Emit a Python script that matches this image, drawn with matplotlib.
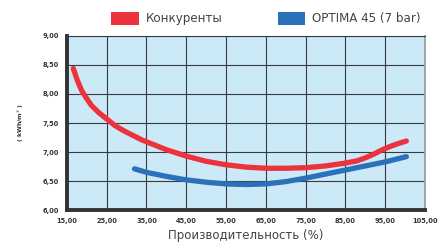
import numpy as np
from matplotlib import pyplot as plt
from matplotlib.patches import Patch
from matplotlib.ticker import FuncFormatter

# values
competitor_x = [16.6, 17.6, 18.7, 20, 21.2, 23, 25, 27, 29.2, 31.5, 33.8, 36.7, 40, 45, 50, 55, 60, 65, 70, 75, 80, 85, 88, 90, 92, 94, 96, 98, 100.3]
competitor_y = [8.44, 8.24, 8.06, 7.92, 7.80, 7.68, 7.57, 7.46, 7.37, 7.29, 7.21, 7.13, 7.04, 6.93, 6.84, 6.78, 6.74, 6.72, 6.72, 6.73, 6.76, 6.81, 6.85, 6.90, 6.96, 7.03, 7.09, 7.14, 7.19]
optima_x = [32, 35, 40, 45, 50, 55, 60, 65, 70, 75, 80, 85, 90, 95, 100.3]
optima_y = [6.71, 6.65, 6.58, 6.52, 6.48, 6.45, 6.44, 6.45, 6.49, 6.55, 6.62, 6.69, 6.76, 6.83, 6.92]
x_ticks = [15, 25, 35, 45, 55, 65, 75, 85, 95, 105]
y_ticks = [6.0, 6.5, 7.0, 7.5, 8.0, 8.5, 9.0]
series_names = ['Конкуренты', 'OPTIMA 45 (7 bar)']

RED = '#ec323c'
BLUE = '#2b71b9'

fig = plt.figure(figsize=(4.4, 2.48), dpi=100)
ax = fig.add_axes([0.152, 0.153, 0.814, 0.702])
ax.set_facecolor('#cce9f8')

ax.plot(competitor_x, competitor_y, color=RED, lw=3.8, solid_capstyle='round', solid_joinstyle='round', zorder=3)
ax.plot(optima_x, optima_y, color=BLUE, lw=3.8, solid_capstyle='round', solid_joinstyle='round', zorder=3)

ax.set_xlim(15, 105)
ax.set_ylim(6.0, 9.0)
ax.set_xticks(x_ticks)
ax.set_yticks(y_ticks)
comma = FuncFormatter(lambda v, p: ('%.2f' % v).replace('.', ','))
ax.xaxis.set_major_formatter(comma)
ax.yaxis.set_major_formatter(comma)
ax.tick_params(length=0, labelsize=4.8, labelcolor='#333333', pad=6)
for lab in ax.get_xticklabels() + ax.get_yticklabels():
    lab.set_fontweight('bold')
ax.grid(True, color='#3a3a3a', lw=0.8, zorder=1)
ax.set_axisbelow(True)

for side in ['left', 'bottom']:
    ax.spines[side].set_color('#333333')
    ax.spines[side].set_linewidth(2.8)
ax.spines['right'].set_color('#999999')
ax.spines['right'].set_linewidth(1.2)
ax.spines['top'].set_color('#3a3a3a')
ax.spines['top'].set_linewidth(0.8)

ax.set_xlabel('Производительность (%)', fontsize=8.5, color='#444444', labelpad=3)
ax.set_ylabel('( kWh/m$^3$ )', fontsize=4.5, fontweight='bold', color='#333333', labelpad=12)

handles = [Patch(facecolor=RED, edgecolor='none'), Patch(facecolor=BLUE, edgecolor='none')]
fig.legend(handles, series_names, loc='center', bbox_to_anchor=(0.605, 0.925), ncol=2,
           frameon=False, fontsize=8.6, labelcolor='#444444', handlelength=2.3, handleheight=1.3,
           columnspacing=4.6, handletextpad=0.6)

fig.savefig('out.png', dpi=100)
